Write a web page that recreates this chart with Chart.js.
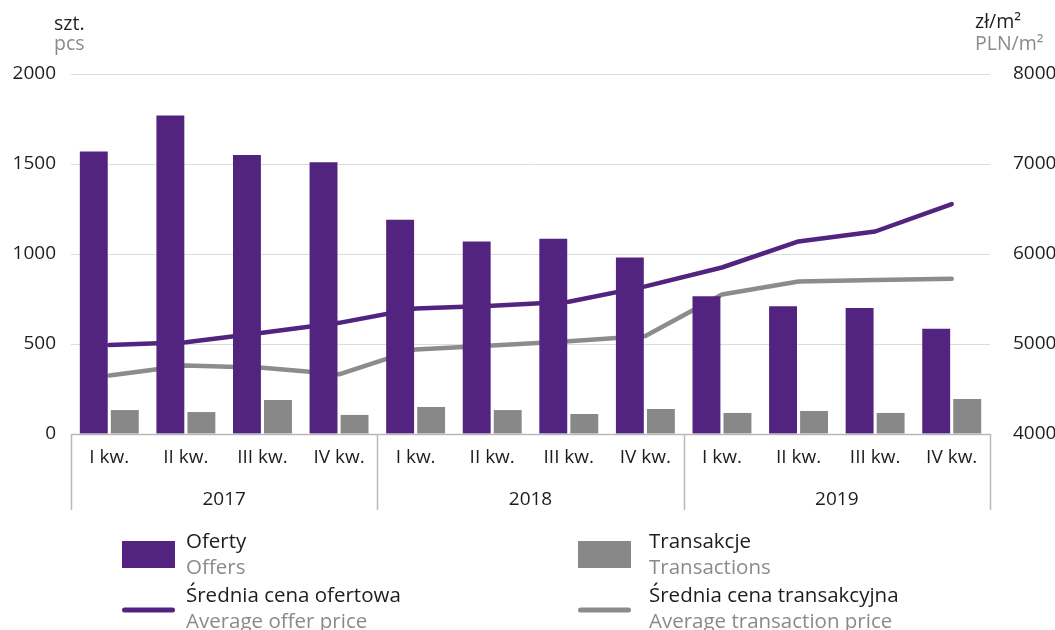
<!DOCTYPE html>
<html lang="pl">
<head>
<meta charset="utf-8">
<title>Oferty i transakcje</title>
<script src="https://cdn.jsdelivr.net/npm/chart.js@4/dist/chart.umd.min.js"></script>
<style>
  html, body { margin: 0; padding: 0; background: #fff; }
  canvas { display: block; }
</style>
</head>
<body>
<canvas id="chart" width="1055" height="630"></canvas>
<script>
// Quarterly data, 2017-2019
const quarters = ['I kw.', 'II kw.', 'III kw.', 'IV kw.',
                  'I kw.', 'II kw.', 'III kw.', 'IV kw.',
                  'I kw.', 'II kw.', 'III kw.', 'IV kw.'];
const years = ['2017', '2018', '2019'];

// szt. / pcs
const offers = [1570, 1770, 1550, 1510, 1190, 1070, 1085, 980, 765, 710, 700, 585];
const transactions = [133, 122, 189, 106, 150, 133, 111, 139, 117, 128, 117, 194];

// zł/m² / PLN/m²
const offerPrice = [4990, 5020, 5125, 5235, 5395, 5425, 5470, 5640, 5850, 6140, 6250, 6555];
const transactionPrice = [4650, 4760, 4735, 4663, 4940, 4982, 5030, 5090, 5550, 5695, 5710, 5725];

const PURPLE = '#52247f';
const GREY_BAR = '#888888';
const GREY_LINE = '#8c8c8c';
const TEXT = '#1d1d1b';
const TEXT_EN = '#8a8a8a';
const FONT = '"Open Sans", "Noto Sans", sans-serif';

const legendItems = [
    { pl: 'Oferty', en: 'Offers', color: PURPLE, type: 'box', x: 122, y: 541 },
    { pl: 'Transakcje', en: 'Transactions', color: GREY_BAR, type: 'box', x: 578, y: 541 },
    { pl: 'Średnia cena ofertowa', en: 'Average offer price', color: PURPLE, type: 'line', x: 122, y: 595 },
    { pl: 'Średnia cena transakcyjna', en: 'Average transaction price', color: GREY_LINE, type: 'line', x: 578, y: 595 }
];

// Axis line, year separators, year labels, unit titles and legend
const decorations = {
    id: 'decorations',
    afterDraw(chart) {
        const ctx = chart.ctx;
        const area = chart.chartArea;
        const x = chart.scales.x;
        const perYear = quarters.length / years.length;
        const catW = x.width / quarters.length;
        const bottom = 510;

        ctx.save();
        ctx.strokeStyle = '#b9b9b9';
        ctx.lineWidth = 1.5;
        ctx.beginPath();
        ctx.moveTo(area.left, area.bottom + 0.5);
        ctx.lineTo(area.right, area.bottom + 0.5);
        for (let k = 0; k <= years.length; k++) {
            const px = Math.round(x.left + k * perYear * catW) + 0.5;
            ctx.moveTo(px, area.bottom);
            ctx.lineTo(px, bottom);
        }
        ctx.stroke();

        ctx.font = '19px ' + FONT;
        ctx.fillStyle = TEXT;
        ctx.textAlign = 'center';
        ctx.textBaseline = 'alphabetic';
        years.forEach((yr, k) => {
            const cx = x.left + (k + 0.5) * perYear * catW;
            ctx.fillText(yr, cx, 505);
        });

        // unit titles
        ctx.font = '19.5px ' + FONT;
        ctx.textAlign = 'left';
        ctx.fillStyle = TEXT;
        ctx.fillText('szt.', 54, 30);
        ctx.fillText('zł/m²', 975, 28);
        ctx.fillStyle = TEXT_EN;
        ctx.fillText('pcs', 54, 50);
        ctx.fillText('PLN/m²', 975, 50);

        // legend
        ctx.font = '20.5px ' + FONT;
        legendItems.forEach(item => {
            const tx = item.x + 64 + (item.x > 300 ? 7 : 0);
            ctx.fillStyle = item.color;
            if (item.type === 'box') {
                ctx.fillRect(item.x, item.y, 53, 27);
            } else {
                ctx.strokeStyle = item.color;
                ctx.lineWidth = 5;
                ctx.lineCap = 'round';
                ctx.beginPath();
                ctx.moveTo(item.x + 2.5, item.y + 15);
                ctx.lineTo(item.x + 50.5, item.y + 15);
                ctx.stroke();
            }
            ctx.fillStyle = TEXT;
            ctx.fillText(item.pl, tx, item.y + 7);
            ctx.fillStyle = TEXT_EN;
            ctx.fillText(item.en, tx, item.y + 33);
        });
        ctx.restore();
    }
};

Chart.defaults.font.family = FONT;
Chart.defaults.font.size = 19;
Chart.defaults.color = TEXT;

const plainNumber = value => String(value);

new Chart(document.getElementById('chart'), {
    type: 'bar',
    data: {
        labels: quarters,
        datasets: [
            {
                label: 'Oferty',
                data: offers,
                backgroundColor: PURPLE,
                yAxisID: 'y',
                order: 1,
                categoryPercentage: 0.81,
                barPercentage: 0.9
            },
            {
                label: 'Transakcje',
                data: transactions,
                backgroundColor: GREY_BAR,
                yAxisID: 'y',
                order: 1,
                categoryPercentage: 0.81,
                barPercentage: 0.9
            },
            {
                type: 'line',
                label: 'Średnia cena ofertowa',
                data: offerPrice,
                borderColor: PURPLE,
                borderWidth: 4.5,
                borderCapStyle: 'round',
                borderJoinStyle: 'round',
                pointRadius: 0,
                tension: 0,
                yAxisID: 'y2',
                order: 2
            },
            {
                type: 'line',
                label: 'Średnia cena transakcyjna',
                data: transactionPrice,
                borderColor: GREY_LINE,
                borderWidth: 4.5,
                borderCapStyle: 'round',
                borderJoinStyle: 'round',
                pointRadius: 0,
                tension: 0,
                yAxisID: 'y2',
                order: 2
            }
        ]
    },
    options: {
        responsive: false,
        animation: false,
        layout: {
            padding: { top: 74, bottom: 120, left: 0, right: 0 }
        },
        plugins: {
            legend: { display: false },
            tooltip: { enabled: false }
        },
        scales: {
            x: {
                grid: { display: false },
                border: { display: false },
                ticks: {
                    autoSkip: false,
                    maxRotation: 0,
                    padding: 4,
                    color: TEXT
                },
                afterFit: scale => { scale.height = 76; }
            },
            y: {
                position: 'left',
                min: 0,
                max: 2000,
                ticks: { stepSize: 500, padding: 15, color: TEXT, callback: plainNumber },
                grid: { color: '#dcdcdc', lineWidth: 1, drawTicks: false },
                border: { display: false },
                afterFit: scale => { scale.width = 71; }
            },
            y2: {
                position: 'right',
                min: 4000,
                max: 8000,
                ticks: { stepSize: 1000, padding: 15, color: TEXT, callback: plainNumber },
                grid: { display: false },
                border: { display: false },
                afterFit: scale => { scale.width = 65; }
            }
        }
    },
    plugins: [decorations]
});
</script>
</body>
</html>
